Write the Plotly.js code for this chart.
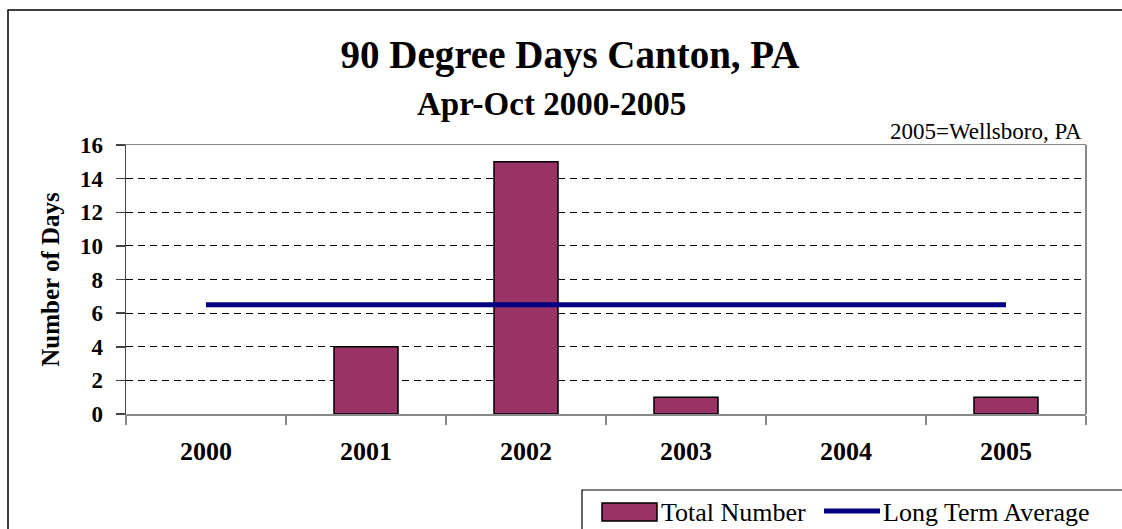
<!DOCTYPE html>
<html>
<head>
<meta charset="utf-8">
<script src="https://cdn.plot.ly/plotly-3.0.1.min.js"></script>
<style>html,body{margin:0;padding:0;background:#fff;}#chart{width:1122px;height:529px;}</style>
</head>
<body>
<div id="chart"></div>
<script>
const years = ["2000", "2001", "2002", "2003", "2004", "2005"];
const totalNumber = [0, 4, 15, 1, 0, 1];
const longTermAverage = [6.5, 6.5, 6.5, 6.5, 6.5, 6.5];
const yTicks = [0, 2, 4, 6, 8, 10, 12, 14, 16];
const seriesNames = ["Total Number", "Long Term Average"];

const font = "'Liberation Serif', 'Times New Roman', serif";
const barColor = "#993366";
const lineColor = "#000080";

// paper coordinate helpers (plot area: x 126..1086 px, y 145..414 px)
const px = v => (v - 126) / 960;
const py = v => (414 - v) / 269;

const traces = [
  {
    type: "bar",
    name: seriesNames[0],
    x: years,
    y: totalNumber,
    width: 0.4,
    marker: {color: barColor, line: {color: "#000000", width: totalNumber.map(v => v > 0 ? 1.5 : 0)}},
    showlegend: false
  },
  {
    type: "scatter",
    mode: "lines",
    name: seriesNames[1],
    x: years,
    y: longTermAverage,
    line: {color: lineColor, width: 5},
    showlegend: false
  }
];

const layout = {
  width: 1122,
  height: 529,
  margin: {l: 126, r: 36, t: 145, b: 115, autoexpand: false},
  paper_bgcolor: "#ffffff",
  plot_bgcolor: "#ffffff",
  font: {family: font, color: "#000000"},
  showlegend: false,
  title: {
    text: "<b>90 Degree Days Canton, PA</b>",
    font: {family: font, size: 39, color: "#000"},
    x: px(570), xanchor: "center", xref: "paper",
    y: 1 - 54 / 529, yanchor: "middle", yref: "container"
  },
  xaxis: {
    type: "category",
    range: [-0.5, 5.5],
    tickson: "boundaries",
    ticks: "outside",
    ticklen: 9,
    tickcolor: "#888",
    tickwidth: 1.5,
    showline: true,
    linecolor: "#888",
    linewidth: 1.5,
    mirror: true,
    showgrid: false,
    tickfont: {family: font, size: 26, color: "#000", weight: "bold"},
    ticklabelstandoff: 13
  },
  yaxis: {
    range: [0, 16],
    tickvals: yTicks,
    ticks: "outside",
    ticklen: 9,
    tickcolor: "#444",
    tickwidth: 1.5,
    showline: true,
    linecolor: "#444",
    linewidth: 1.5,
    showgrid: true,
    gridcolor: "#000",
    griddash: "7px,5px",
    gridwidth: 1,
    zeroline: false,
    tickfont: {family: font, size: 23, color: "#000", weight: "bold"},
    ticklabelstandoff: 8,
    title: {text: "<b>Number of Days</b>", font: {family: font, size: 25, color: "#000"}, standoff: 13}
  },
  annotations: [
    {
      text: "<b>Apr-Oct 2000-2005</b>", xref: "paper", yref: "paper",
      x: px(551), y: py(104), xanchor: "center", yanchor: "middle", showarrow: false,
      font: {family: font, size: 33, color: "#000"}
    },
    {
      text: "2005=Wellsboro, PA", xref: "paper", yref: "paper",
      x: px(1084), y: py(131), xanchor: "right", yanchor: "middle", showarrow: false,
      font: {family: font, size: 23, color: "#000"}
    },
    {
      text: seriesNames[0], xref: "paper", yref: "paper",
      x: px(659), y: py(512), xanchor: "left", yanchor: "middle", showarrow: false,
      font: {family: font, size: 26, color: "#000"}
    },
    {
      text: seriesNames[1], xref: "paper", yref: "paper",
      x: px(881), y: py(512), xanchor: "left", yanchor: "middle", showarrow: false,
      font: {family: font, size: 26, color: "#000"}
    }
  ],
  shapes: [
    {type: "line", xref: "paper", yref: "paper", x0: 1, x1: 1, y0: 0, y1: 1, line: {color: "#888", width: 2}},
    {type: "rect", xref: "paper", yref: "paper", x0: px(8), x1: px(1140), y0: py(560), y1: py(10), line: {color: "#000", width: 1.5}, layer: "below"},
    // legend box
    {type: "rect", xref: "paper", yref: "paper", x0: px(582), x1: px(1140), y0: py(560), y1: py(490), line: {color: "#000", width: 1.2}, fillcolor: "#fff", layer: "above"},
    // legend swatches
    {type: "rect", xref: "paper", yref: "paper", x0: px(602), x1: px(657), y0: py(521), y1: py(503), line: {color: "#000", width: 1.5}, fillcolor: barColor, layer: "above"},
    {type: "line", xref: "paper", yref: "paper", x0: px(824), x1: px(880), y0: py(511), y1: py(511), line: {color: lineColor, width: 5}, layer: "above"}
  ]
};

Plotly.newPlot("chart", traces, layout, {displayModeBar: false, staticPlot: true});
</script>
</body>
</html>
